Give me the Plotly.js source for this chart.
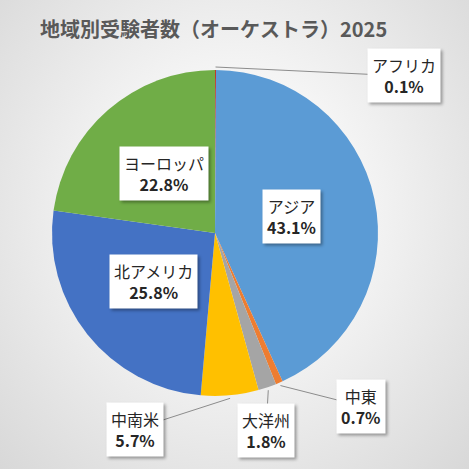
<!DOCTYPE html>
<html>
<head>
<meta charset="utf-8">
<script src="https://cdn.plot.ly/plotly-3.0.1.min.js"></script>
<style>
html,body{margin:0;padding:0;}
#wrap{width:469px;height:469px;background:radial-gradient(ellipse at 50% 45%, #ffffff 0%, #f6f6f6 35%, #d8d8d8 100%);}
#chart{width:469px;height:469px;}
#chart .annotation rect.bg{filter:drop-shadow(2px 2px 1.5px rgba(0,0,0,0.35));}
</style>
</head>
<body>
<div id="wrap"><div id="chart"></div></div>
<script>
// ---- data ----
const titleText = '地域別受験者数（オーケストラ）2025';
const categories = ['アフリカ', 'アジア', '中東', '大洋州', '中南米', '北アメリカ', 'ヨーロッパ'];
const shares = [0.1, 43.1, 0.7, 1.8, 5.7, 25.8, 22.8];
const sliceColors = ['#C0392B', '#5B9BD5', '#ED7D31', '#A5A5A5', '#FFC000', '#4472C4', '#70AD47'];

// ---- layout helpers (pixels) ----
const W = 469, H = 469;
const cx = 215, cy = 233, R = 163;
const P = (x, y) => [x / W, 1 - y / H];
// external label centres (px) for small slices; null = inside label
const outsidePos = [[404, 76], null, [361, 406], [266, 430], [135, 429], null, null];
const insideFrac = 0.48;

const total = shares.reduce((a, b) => a + b, 0);
let cum = 0;
const annotations = [];
const shapes = [];
const font = 'Noto Sans CJK JP, Noto Sans, sans-serif';

shares.forEach((v, i) => {
  const mid = (cum + v / 2) / total * 2 * Math.PI;
  cum += v;
  const sx = Math.sin(mid), sy = -Math.cos(mid);
  let lx, ly;
  if (outsidePos[i]) {
    [lx, ly] = outsidePos[i];
    const ex = cx + (R + 3) * sx, ey = cy + (R + 3) * sy;
    const a = P(ex, ey), b = P(lx, ly);
    shapes.push({type: 'line', xref: 'paper', yref: 'paper', x0: a[0], y0: a[1], x1: b[0], y1: b[1],
      line: {color: '#8c8c8c', width: 1}});
  } else {
    lx = cx + R * insideFrac * sx;
    ly = cy + R * insideFrac * sy;
  }
  const p = P(lx, ly);
  const txt = categories[i] + '<br><b>' + v.toFixed(1) + '%</b>';
  annotations.push({xref: 'paper', yref: 'paper', x: p[0], y: p[1], xanchor: 'center', yanchor: 'middle',
    text: txt, showarrow: false,
    bgcolor: '#ffffff', borderpad: 4,
    font: {family: font, size: 16, color: '#262626'}});
});

const d0 = P(cx - R, cy + R), d1 = P(cx + R, cy - R);

const trace = {
  type: 'pie',
  labels: categories,
  values: shares,
  sort: false,
  direction: 'clockwise',
  rotation: 0,
  textinfo: 'none',
  hoverinfo: 'label+percent',
  marker: {colors: sliceColors, line: {width: 0}},
  domain: {x: [d0[0], d1[0]], y: [d0[1], d1[1]]},
  showlegend: false
};

const tp = P(40, 30);
const layout = {
  width: W, height: H,
  margin: {l: 0, r: 0, t: 0, b: 0},
  paper_bgcolor: 'rgba(0,0,0,0)',
  plot_bgcolor: 'rgba(0,0,0,0)',
  title: {text: '<b>' + titleText + '</b>', x: tp[0], xanchor: 'left', y: tp[1], yanchor: 'middle',
    xref: 'paper', yref: 'paper',
    font: {family: font, size: 20, color: '#595959'}},
  annotations: annotations,
  shapes: shapes
};

Plotly.newPlot('chart', [trace], layout, {displayModeBar: false, staticPlot: true});
</script>
</body>
</html>
